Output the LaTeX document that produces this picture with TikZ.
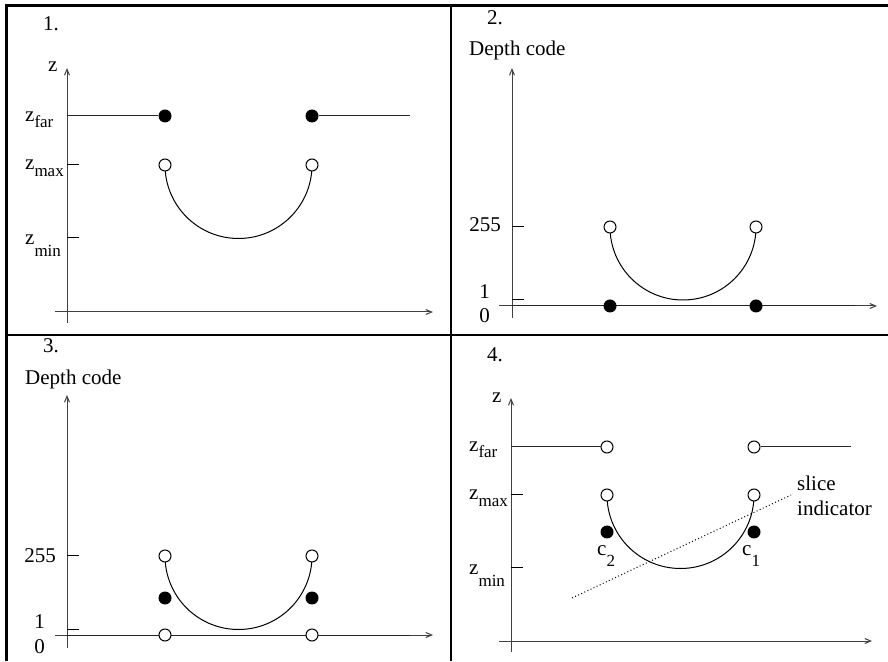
\documentclass[tikz,border=0pt]{standalone}
\usepackage{fontspec}
\setmainfont{Liberation Serif}
\usetikzlibrary{arrows.meta}
\newcommand{\subtxt}[2]{\raisebox{-#1}{\fontsize{17}{17}\selectfont #2}}

\begin{document}
\begin{tikzpicture}[x=1pt,y=1pt,
    >={Straight Barb[length=6pt,width=5pt]},
    every node/.style={font=\fontsize{21}{25}\selectfont,inner sep=0pt},
    axis/.style={draw=black!75,line width=1pt,->},
    level/.style={draw=black!85,line width=1pt},
    tick/.style={draw=black,line width=1pt},
    curve/.style={draw=black,line width=1pt},
    frame/.style={draw=black,line width=2.6pt},
    dotopen/.style={circle,draw=black,line width=1pt,fill=white,minimum size=12pt},
    dotfull/.style={circle,fill=black,minimum size=13pt}]
    \useasboundingbox (0,0) rectangle (888,661);
    % frame
    \draw[frame] (888,655.5) -- (6.2,655.5) -- (6.2,0);
    \draw[frame] (451,655.5) -- (451,0);
    \draw[frame] (6.2,326) -- (888,326);

    % 1.
    \begin{scope}[shift={(67,349)}]
    \draw[axis] (-12,0) -- (366,0);
    \draw[axis] (0,-11) -- (0,244);
    \draw[tick] (0,147) -- (12,147);
    \draw[tick] (0,74) -- (12,74);
    \coordinate (a1) at (98,147);
    \draw[curve] (a1) arc[start angle=180,end angle=360,radius=73.5];
    \coordinate (fa1) at (0,196);
    \coordinate (fb1) at (343,196);
    \node[dotfull] (fl1) at (98,196) {};
    \node[dotfull] (fr1) at (245,196) {};
    \draw[level] (fa1) -- (fl1);
    \draw[level] (fr1) -- (fb1);
    \node[dotopen] (ml1) at (a1) {};
    \node[dotopen] (mr1) at (245,147) {};
    \node[anchor=base west] (num1) at (-24,281) {1.};
    \node[anchor=base west] (zax1) at (-19,240) {z};
    \node[anchor=base west] (zfar1) at (-42,190) {z\subtxt{6pt}{far}};
    \node[anchor=base west] (zmax1) at (-42,142) {z\subtxt{7pt}{max}};
    \node[anchor=base west] (zmin1) at (-42,67) {z\subtxt{12pt}{min}};
    \end{scope}

    % 2.
    \begin{scope}[shift={(512,355)}]
    \draw[axis] (-13,0) -- (365,0);
    \draw[axis] (0,-12) -- (0,238);
    \coordinate (za2) at (0,0);
    \coordinate (zb2) at (343,0);
    \draw[level] (za2) -- (zb2);
    \draw[tick] (0,79) -- (12,79);
    \draw[tick] (0,6) -- (12,6);
    \coordinate (a2) at (98,79);
    \draw[curve] (a2) arc[start angle=180,end angle=360,radius=73];
    \node[dotopen] (ml2) at (a2) {};
    \node[dotopen] (mr2) at (244,79) {};
    \node[dotfull] (zl2) at (98,0) {};
    \node[dotfull] (zr2) at (244,0) {};
    \node[anchor=base west] (num2) at (-25,281) {2.};
    \node[anchor=base west] (dc2) at (-43,250) {Depth code};
    \node[anchor=base east] (v255b) at (-11,74) {255};
    \node[anchor=base east] (v1b) at (-22,7) {1};
    \node[anchor=base east] (v0b) at (-22,-17) {0};
    \end{scope}

    % 3.
    \begin{scope}[shift={(67,26)}]
    \draw[axis] (-12,0) -- (366,0);
    \draw[axis] (0,-13) -- (0,240);
    \coordinate (za3) at (0,0);
    \coordinate (zb3) at (343,0);
    \draw[level] (za3) -- (zb3);
    \draw[tick] (0,79) -- (12,79);
    \draw[tick] (0,6) -- (12,6);
    \coordinate (a3) at (98,79);
    \draw[curve] (a3) arc[start angle=180,end angle=360,radius=73.5];
    \node[dotopen] (ml3) at (a3) {};
    \node[dotopen] (mr3) at (245,79) {};
    \node[dotfull] (cl3) at (98,37) {};
    \node[dotfull] (cr3) at (245,37) {};
    \node[dotopen] (zl3) at (98,0) {};
    \node[dotopen] (zr3) at (245,0) {};
    \node[anchor=base west] (num3) at (-24,282) {3.};
    \node[anchor=base west] (dc3) at (-42,250) {Depth code};
    \node[anchor=base east] (v255c) at (-11,73) {255};
    \node[anchor=base east] (v1c) at (-22,7) {1};
    \node[anchor=base east] (v0c) at (-22,-18) {0};
    \end{scope}

    % 4.
    \begin{scope}[shift={(511,20)}]
    \draw[axis] (-12,0) -- (361,0);
    \draw[axis] (0,-11) -- (0,243);
    \draw[tick] (0,146) -- (12,146);
    \draw[tick] (0,73) -- (12,73);
    \coordinate (a4) at (96,146);
    \draw[curve] (a4) arc[start angle=180,end angle=360,radius=73.5];
    \coordinate (fa4) at (0,194);
    \coordinate (fb4) at (340,194);
    \node[dotopen] (fl4) at (96,194) {};
    \node[dotopen] (fr4) at (243,194) {};
    \draw[level] (fa4) -- (fl4);
    \draw[level] (fr4) -- (fb4);
    \node[dotopen] (ml4) at (a4) {};
    \node[dotopen] (mr4) at (243,146) {};
    \node[dotfull] (c2) at (96,109) {};
    \node[dotfull] (c1) at (243,109) {};
    \coordinate (sa) at (61,43);
    \coordinate (sb) at (280,146);
    \draw[line width=1pt,dash pattern=on 1pt off 2.4pt] (sa) -- (sb);
    \node[anchor=base west] (lc2) at (86,86) {c\subtxt{12pt}{2}};
    \node[anchor=base west] (lc1) at (231,86) {c\subtxt{12pt}{1}};
    \node[anchor=north west,align=left] (slice) at (286,165) {slice\\indicator};
    \node[anchor=base west] (num4) at (-24,279) {4.};
    \node[anchor=base west] (zax4) at (-19,238) {z};
    \node[anchor=base west] (zfar4) at (-42,189) {z\subtxt{6pt}{far}};
    \node[anchor=base west] (zmax4) at (-42,141) {z\subtxt{7pt}{max}};
    \node[anchor=base west] (zmin4) at (-42,66) {z\subtxt{12pt}{min}};
    \end{scope}
\end{tikzpicture}
\end{document}
